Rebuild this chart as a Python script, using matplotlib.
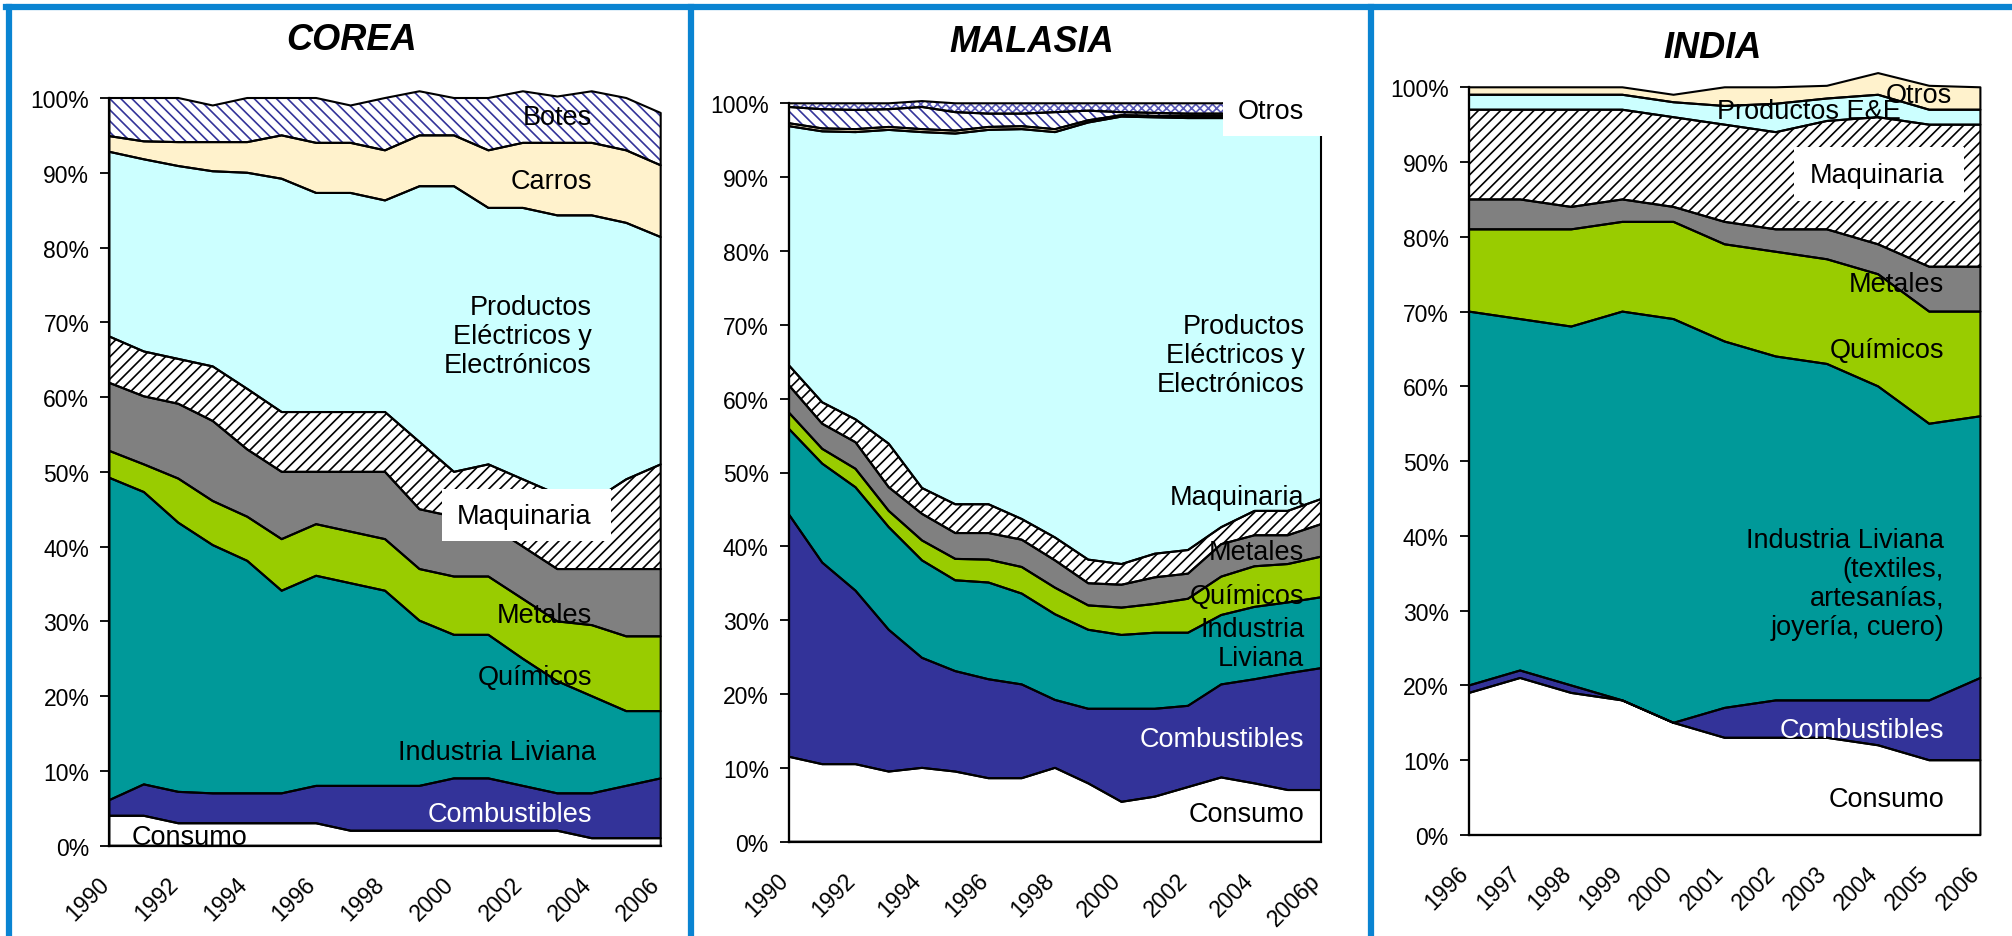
import numpy as np
import matplotlib
matplotlib.use("Agg")
import matplotlib.pyplot as plt
from matplotlib.lines import Line2D
from matplotlib.patches import Rectangle
from matplotlib.transforms import ScaledTranslation

plt.rcParams["font.family"] = ["Liberation Sans", "DejaVu Sans"]
plt.rcParams["hatch.linewidth"] = 1.2

# ---------------- data (shares of exports, %) ----------------
corea_years = [str(y) for y in range(1990, 2007)]
corea_consumo = [4, 4, 3, 3, 3, 3, 3, 2, 2, 2, 2, 2, 2, 2, 1, 1, 1]
corea_combustibles = [2.1, 4.2, 4.2, 4, 4, 4, 5, 6, 6, 6, 7, 7, 6, 5, 6, 7, 8]
corea_ind_liviana = [43.1, 39.1, 36, 33.2, 31.1, 27.1, 28.1, 27.1, 26.1, 22.1, 19.2, 19.2, 17, 15, 13, 10, 9]
corea_quimicos = [3.6, 3.7, 5.9, 5.9, 5.9, 6.9, 6.9, 6.9, 6.9, 6.9, 7.8, 7.8, 8, 8, 9.5, 10, 10]
corea_metales = [9.1, 9.1, 10, 10.7, 9, 9, 7, 8, 9, 8, 8, 7, 7, 7, 7.5, 9, 9]
corea_maquinaria = [6.2, 6, 6, 7.3, 8.1, 8, 8, 8, 8, 9, 6, 8, 9, 10, 9, 12, 14]
corea_electricos = [24.7, 25.7, 25.8, 26.1, 28.9, 31.2, 29.3, 29.3, 28.3, 34.2, 38.2, 34.3, 36.3, 37.3, 38.3, 34.3, 30.4]
corea_carros = [2.1, 2.4, 3.2, 3.9, 4.1, 5.8, 6.7, 6.7, 6.7, 6.8, 6.8, 7.7, 8.7, 9.7, 9.7, 9.7, 9.6]
corea_botes = [5.1, 5.8, 5.9, 4.9, 5.9, 5, 6, 5, 7, 5.9, 5, 7, 6.9, 6.2, 6.9, 7, 7]

malasia_years = [str(y) for y in range(1990, 2006)] + ["2006p"]
malasia_consumo = [11.5, 10.5, 10.5, 9.5, 10, 9.5, 8.6, 8.6, 10, 7.9, 5.4, 6.1, 7.4, 8.7, 7.9, 7, 7]
malasia_combustibles = [32.8, 27.3, 23.5, 19.2, 14.9, 13.6, 13.4, 12.7, 9.2, 10.1, 12.6, 11.9, 11, 12.6, 14.1, 15.8, 16.5]
malasia_ind_liviana = [11.6, 13.4, 14, 13.9, 13.2, 12.3, 13.1, 12.3, 11.6, 10.7, 10, 10.3, 9.9, 9.4, 9.8, 9.6, 9.6]
malasia_quimicos = [2.2, 2, 2.5, 2.2, 2.7, 2.9, 3.1, 3.6, 3.6, 3.3, 3.7, 3.9, 4.6, 5.2, 5.5, 5.2, 5.5]
malasia_metales = [3.7, 3.4, 3.6, 3.2, 3.6, 3.5, 3.6, 3.7, 3.7, 3, 3.1, 3.6, 3.4, 4.4, 4.2, 3.9, 4.4]
malasia_maquinaria = [2.7, 2.9, 3.1, 5.9, 3.5, 3.9, 3.9, 2.8, 3.1, 3.2, 2.8, 3.2, 3.2, 2.3, 3.3, 3.3, 3.4]
malasia_electricos = [32.4, 36.7, 38.9, 42.5, 48.2, 50.2, 50.7, 52.8, 54.9, 59.2, 60.6, 59.1, 58.5, 55.4, 53.2, 53.2, 51.6]
malasia_carros = [0.4, 0.4, 0.4, 0.4, 0.4, 0.4, 0.4, 0.4, 0.4, 0.3, 0.2, 0.2, 0.3, 0.3, 0.3, 0.3, 0.3]
malasia_botes = [2.2, 2.6, 2.6, 2.4, 3, 2.5, 1.8, 1.7, 2.3, 1.3, 0.4, 0.4, 0.3, 0.3, 0.3, 0.3, 0.3]
malasia_otros = [0.5, 0.8, 0.9, 0.8, 0.8, 1.2, 1.4, 1.4, 1.2, 1, 1.2, 1.3, 1.4, 1.4, 1.7, 1.7, 1.7]

india_years = [str(y) for y in range(1996, 2007)]
india_consumo = [19, 21, 19, 18, 15, 13, 13, 13, 12, 10, 10]
india_combustibles = [1, 1, 1, 0, 0, 4, 5, 5, 6, 8, 11]
india_ind_liviana = [50, 47, 48, 52, 54, 49, 46, 45, 42, 37, 35]
india_quimicos = [11, 12, 13, 12, 13, 13, 14, 14, 15, 15, 14]
india_metales = [4, 4, 3, 3, 2, 3, 3, 4, 4, 6, 6]
india_maquinaria = [12, 12, 13, 12, 12, 13, 13, 14.5, 17, 19, 19]
india_electricos = [2, 2, 2, 2, 2, 2.5, 3.8, 3, 3, 2, 2]
india_otros = [1, 1, 1, 1, 1, 2.5, 2.2, 1.7, 2.9, 3.2, 3]

# ---------------- styles: (face, hatch, hatch colour) ----------------
ST_CONSUMO = ("white", None, None)
ST_COMB = ("#333399", None, None)
ST_IL = ("#009999", None, None)
ST_QUIM = ("#99CC00", None, None)
ST_MET = ("#808080", None, None)
ST_MAQ = ("white", "///", "black")
ST_EE = ("#CCFFFF", None, None)
ST_CARROS = ("#FFF2CC", None, None)
ST_BOTES = ("white", "\\\\\\", "#333399")
ST_OTROS_MY = ("white", "xxxx", "#5a5ab8")

BORDER = "#0A84D2"
TICK_FS = 16.5
LABEL_FS = 19.5

fig = plt.figure(figsize=(20.12, 9.37), dpi=100)


def px_axes(x0, x1, y_top, y_bot):
    W, H = 2012, 937
    return fig.add_axes([x0 / W, 1 - y_bot / H, (x1 - x0) / W, (y_bot - y_top) / H])


def draw_panel(ax, years, layers, step):
    x = np.arange(len(years))
    base = np.zeros(len(x))
    for vals, (fc, hatch, hc) in layers:
        top = base + np.array(vals, dtype=float)
        ax.fill_between(x, base, top, facecolor=fc, edgecolor=hc if hatch else fc,
                        hatch=hatch, linewidth=0, clip_on=False, zorder=1)
        ax.fill_between(x, base, top, facecolor="none", edgecolor="black",
                        linewidth=1.5, clip_on=False, zorder=2)
        base = top
    ax.set_xlim(0, len(x) - 1)
    ax.set_ylim(0, 100)
    ax.set_yticks(np.arange(0, 101, 10))
    ax.set_yticklabels([f"{v}%" for v in range(0, 101, 10)], fontsize=TICK_FS)
    ticks = x[::step]
    ax.set_xticks(ticks, [years[i] for i in ticks], rotation=45, ha="right",
                  va="center", rotation_mode="anchor", fontsize=TICK_FS)
    ax.tick_params(axis="x", length=0, pad=25)
    ax.tick_params(axis="y", length=6.5, width=1.3, pad=8, direction="out")
    for lab in ax.get_xticklabels():
        lab.set_transform(lab.get_transform() + ScaledTranslation(-0.04, 0, fig.dpi_scale_trans))
    for s in ("top", "right"):
        ax.spines[s].set_visible(False)
    for s in ("left", "bottom"):
        ax.spines[s].set_linewidth(1.6)
        ax.spines[s].set_zorder(3)
    ax.patch.set_alpha(0)


def label(ax, x, y, txt, color="black", ha="right"):
    ax.text(x, y, txt, ha=ha, va="center", fontsize=LABEL_FS, color=color,
            linespacing=1.15, zorder=5, clip_on=False)


def white_box(ax, x0, x1, y0, y1):
    ax.add_patch(Rectangle((x0, y0), x1 - x0, y1 - y0, facecolor="white",
                           edgecolor="none", zorder=4, clip_on=False))


# ---------------- COREA ----------------
ax1 = px_axes(109.4, 660.7, 99, 846.7)
draw_panel(ax1, corea_years, [
    (corea_consumo, ST_CONSUMO), (corea_combustibles, ST_COMB),
    (corea_ind_liviana, ST_IL), (corea_quimicos, ST_QUIM),
    (corea_metales, ST_MET), (corea_maquinaria, ST_MAQ),
    (corea_electricos, ST_EE), (corea_carros, ST_CARROS),
    (corea_botes, ST_BOTES)], 2)
label(ax1, 14, 97.4, "Botes")
label(ax1, 14, 88.9, "Carros")
label(ax1, 14, 68.2, "Productos\nEléctricos y\nElectrónicos")
white_box(ax1, 9.65, 14.57, 40.8, 47.7)
label(ax1, 14, 44.1, "Maquinaria")
label(ax1, 14, 30.8, "Metales")
label(ax1, 14, 22.6, "Químicos")
label(ax1, 14.12, 12.5, "Industria Liviana")
label(ax1, 14, 4.2, "Combustibles", color="white")
label(ax1, 0.65, 1.1, "Consumo", ha="left")

# ---------------- MALASIA ----------------
ax2 = px_axes(789, 1321, 104.3, 842.7)
draw_panel(ax2, malasia_years, [
    (malasia_consumo, ST_CONSUMO), (malasia_combustibles, ST_COMB),
    (malasia_ind_liviana, ST_IL), (malasia_quimicos, ST_QUIM),
    (malasia_metales, ST_MET), (malasia_maquinaria, ST_MAQ),
    (malasia_electricos, ST_EE), (malasia_carros, ST_CARROS),
    (malasia_botes, ST_BOTES), (malasia_otros, ST_OTROS_MY)], 2)
white_box(ax2, 13.04, 16.05, 95.6, 100.8)
label(ax2, 15.5, 99.0, "Otros")
label(ax2, 15.5, 65.9, "Productos\nEléctricos y\nElectrónicos")
label(ax2, 15.5, 46.7, "Maquinaria")
label(ax2, 15.5, 39.2, "Metales")
label(ax2, 15.5, 33.3, "Químicos")
label(ax2, 15.5, 26.8, "Industria\nLiviana")
label(ax2, 15.5, 13.9, "Combustibles", color="white")
label(ax2, 15.5, 3.75, "Consumo")

# ---------------- INDIA ----------------
ax3 = px_axes(1469, 1980.4, 88.3, 836)
draw_panel(ax3, india_years, [
    (india_consumo, ST_CONSUMO), (india_combustibles, ST_COMB),
    (india_ind_liviana, ST_IL), (india_quimicos, ST_QUIM),
    (india_metales, ST_MET), (india_maquinaria, ST_MAQ),
    (india_electricos, ST_EE), (india_otros, ST_CARROS)], 1)
label(ax3, 9.45, 99.0, "Otros")
label(ax3, 8.45, 96.8, "Productos E&E")
white_box(ax3, 6.36, 9.67, 84.8, 92.0)
label(ax3, 9.29, 88.3, "Maquinaria")
label(ax3, 9.29, 73.7, "Metales")
label(ax3, 9.29, 64.8, "Químicos")
label(ax3, 9.29, 33.7, "Industria Liviana\n(textiles,\nartesanías,\njoyería, cuero)")
label(ax3, 9.29, 14.1, "Combustibles", color="white")
label(ax3, 9.29, 4.8, "Consumo")

# ---------------- titles and panel borders ----------------
for name, xc, yc in (("COREA", 352, 40), ("MALASIA", 1032, 43), ("INDIA", 1713, 48)):
    fig.text(xc / 2012, 1 - yc / 937, name, ha="center", va="center",
             fontsize=26, fontweight="bold", fontstyle="italic")

W, H = 2012, 937
fig.add_artist(Line2D([6 / W, 1], [1 - 8 / H, 1 - 8 / H], color=BORDER, lw=4.5))
for xb in (9, 691, 1371):
    fig.add_artist(Line2D([xb / W, xb / W], [0, 1 - 8 / H], color=BORDER, lw=4.5))

fig.savefig("out.png", dpi=100)
